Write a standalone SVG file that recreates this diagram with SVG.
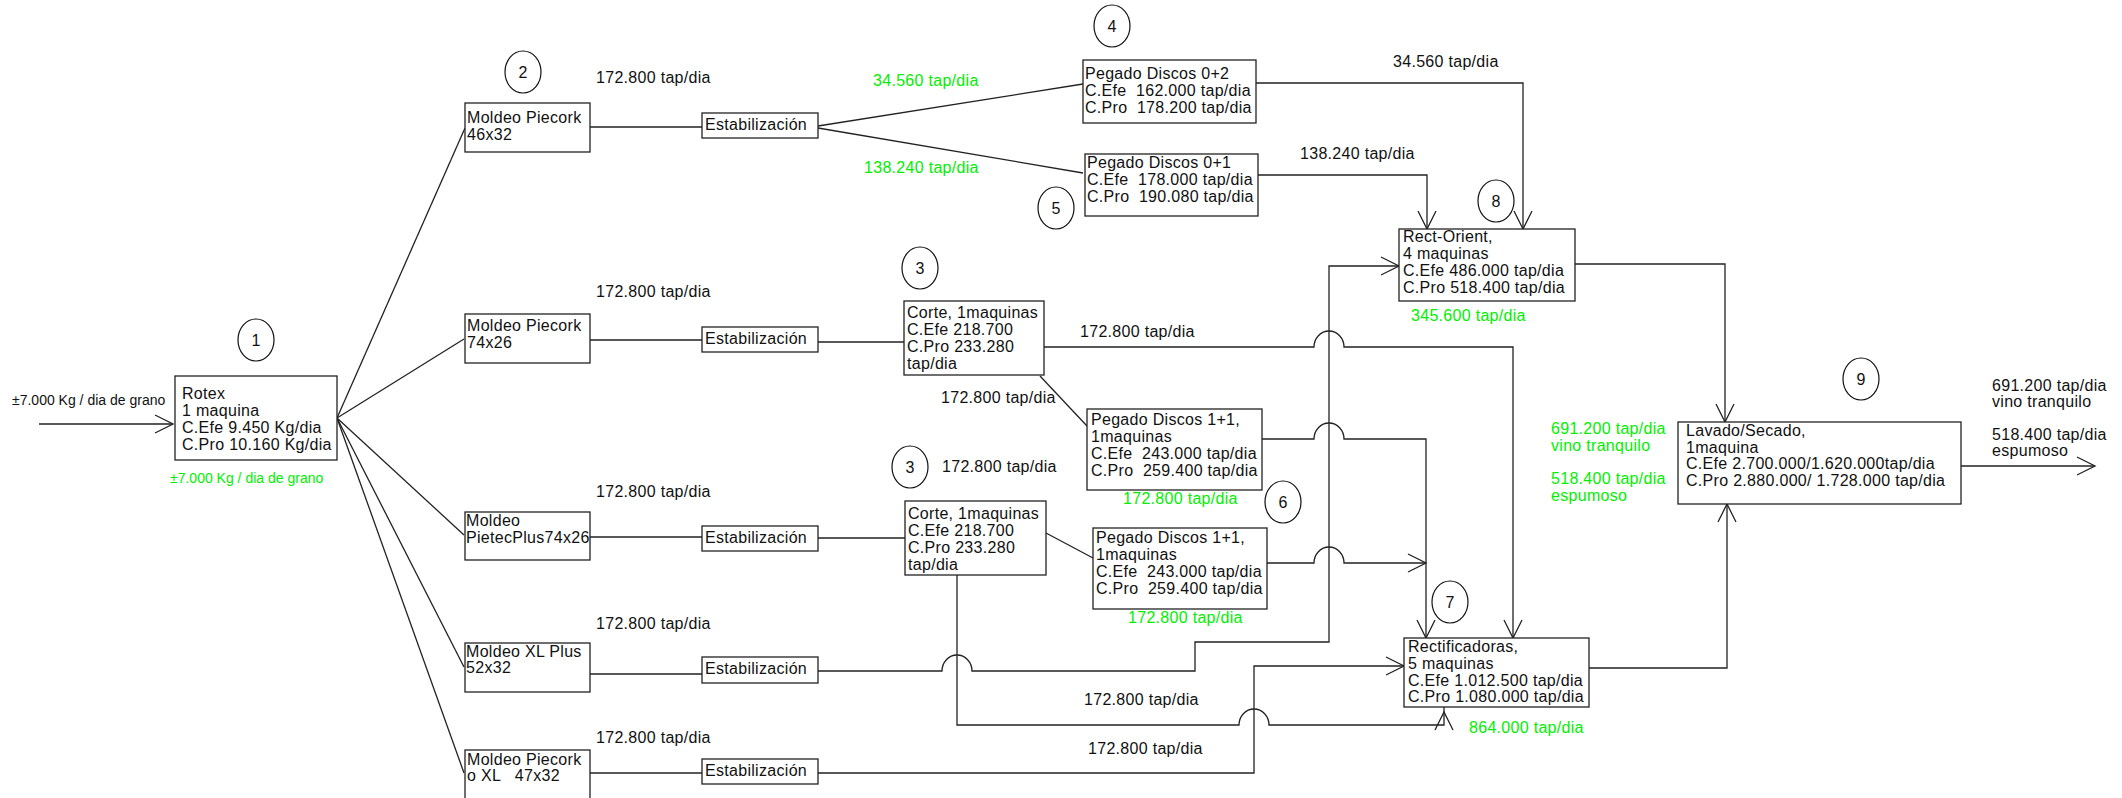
<svg xmlns="http://www.w3.org/2000/svg" width="2122" height="798" viewBox="0 0 2122 798">
<style>
.bg{fill:#fff}
.box{fill:#fff;stroke:#222;stroke-width:1.3}
.c{fill:#fff;stroke:#111;stroke-width:1.2}
.ln{fill:none;stroke:#222;stroke-width:1.3}
.t{font-family:"Liberation Sans",Arial,sans-serif;font-size:16px;letter-spacing:0.3px;fill:#111;white-space:pre}
.g{fill:#00f000}
.k{font-size:14px;letter-spacing:0}
.n{text-anchor:middle;letter-spacing:0}
</style>
<defs>
<marker id="arr" viewBox="-20 -10 22 20" refX="0" refY="0" markerWidth="22" markerHeight="20" markerUnits="userSpaceOnUse" orient="auto">
<path d="M-18,-9 L0,0 L-18,9" fill="none" stroke="#222" stroke-width="1.3"/>
</marker>
</defs>
<rect class="bg" x="0" y="0" width="2122" height="798"/>

<g id="connectors">
<path class="ln" d="M39,424 L173,424" marker-end="url(#arr)"/>
<path class="ln" d="M337,418 L465,128"/>
<path class="ln" d="M337,418 L464,339"/>
<path class="ln" d="M337,418 L464,535"/>
<path class="ln" d="M337,418 L464,667"/>
<path class="ln" d="M337,418 L464,773"/>
<path class="ln" d="M590,127 L702,127"/>
<path class="ln" d="M590,340 L702,340"/>
<path class="ln" d="M590,537 L702,537"/>
<path class="ln" d="M590,674 L702,674"/>
<path class="ln" d="M590,773 L702,773"/>
<path class="ln" d="M818,126 L1083,84"/>
<path class="ln" d="M818,128 L1083,173"/>
<path class="ln" d="M818,342 L904,342"/>
<path class="ln" d="M818,538 L905,538"/>
<path class="ln" d="M818,671 L942,671 A15,16 0 0 1 972,671 L1195,671 L1195,642 L1329,642 L1329,266 L1399,266" marker-end="url(#arr)"/>
<path class="ln" d="M818,773 L1254,773 L1254,666 L1404,666" marker-end="url(#arr)"/>
<path class="ln" d="M1044,347 L1314,347 A15,16 0 0 1 1344,347 L1513,347 L1513,638" marker-end="url(#arr)"/>
<path class="ln" d="M1040,376 L1087,426"/>
<path class="ln" d="M1046,533 L1093,558"/>
<path class="ln" d="M957,575 L957,725 L1239,725 A15,16 0 0 1 1269,725 L1444,725 L1444,712" marker-end="url(#arr)"/>
<path class="ln" d="M1444,712 L1444,700"/>
<path class="ln" d="M1262,439 L1314,439 A15,16 0 0 1 1344,439 L1426,439 L1426,638" marker-end="url(#arr)"/>
<path class="ln" d="M1267,563 L1314,563 A15,16 0 0 1 1344,563 L1426,563" marker-end="url(#arr)"/>
<path class="ln" d="M1256,83 L1523,83 L1523,229" marker-end="url(#arr)"/>
<path class="ln" d="M1258,175 L1427,175 L1427,229" marker-end="url(#arr)"/>
<path class="ln" d="M1575,264 L1725,264 L1725,422" marker-end="url(#arr)"/>
<path class="ln" d="M1589,668 L1727,668 L1727,504" marker-end="url(#arr)"/>
<path class="ln" d="M1961,466 L2095,466" marker-end="url(#arr)"/>
</g>

<g id="n1-rotex">
<rect class="box" x="175" y="376" width="162" height="84"/>
<text class="t" x="182" y="399">Rotex</text>
<text class="t" x="182" y="416">1 maquina</text>
<text class="t" x="182" y="433">C.Efe 9.450 Kg/dia</text>
<text class="t" x="182" y="450">C.Pro 10.160 Kg/dia</text>
</g>
<g id="m1">
<rect class="box" x="465" y="103" width="125" height="49"/>
<text class="t" x="467" y="123">Moldeo Piecork</text>
<text class="t" x="467" y="140">46x32</text>
</g>
<g id="m2">
<rect class="box" x="465" y="314" width="125" height="49"/>
<text class="t" x="467" y="331">Moldeo Piecork</text>
<text class="t" x="467" y="348">74x26</text>
</g>
<g id="m3">
<rect class="box" x="465" y="512" width="125" height="48"/>
<text class="t" x="466" y="526">Moldeo</text>
<text class="t" x="466" y="543">PietecPlus74x26</text>
</g>
<g id="m4">
<rect class="box" x="465" y="643" width="125" height="49"/>
<text class="t" x="466" y="657">Moldeo XL Plus</text>
<text class="t" x="466" y="673">52x32</text>
</g>
<g id="m5">
<rect class="box" x="465" y="750" width="125" height="52"/>
<text class="t" x="467" y="765">Moldeo Piecork</text>
<text class="t" x="467" y="781">o XL   47x32</text>
</g>
<g id="e1"><rect class="box" x="702" y="113" width="116" height="25"/><text class="t" x="705" y="130">Estabilización</text></g>
<g id="e2"><rect class="box" x="702" y="327" width="116" height="25"/><text class="t" x="705" y="344">Estabilización</text></g>
<g id="e3"><rect class="box" x="702" y="526" width="116" height="25"/><text class="t" x="705" y="543">Estabilización</text></g>
<g id="e4"><rect class="box" x="702" y="657" width="116" height="26"/><text class="t" x="705" y="674">Estabilización</text></g>
<g id="e5"><rect class="box" x="702" y="759" width="116" height="25"/><text class="t" x="705" y="776">Estabilización</text></g>

<g id="corte1">
<rect class="box" x="904" y="301" width="140" height="74"/>
<text class="t" x="907" y="318">Corte, 1maquinas</text>
<text class="t" x="907" y="335">C.Efe 218.700</text>
<text class="t" x="907" y="352">C.Pro 233.280</text>
<text class="t" x="907" y="369">tap/dia</text>
</g>
<g id="corte2">
<rect class="box" x="905" y="501" width="141" height="74"/>
<text class="t" x="908" y="519">Corte, 1maquinas</text>
<text class="t" x="908" y="536">C.Efe 218.700</text>
<text class="t" x="908" y="553">C.Pro 233.280</text>
<text class="t" x="908" y="570">tap/dia</text>
</g>
<g id="p02">
<rect class="box" x="1083" y="60" width="173" height="63"/>
<text class="t" x="1085" y="79">Pegado Discos 0+2</text>
<text class="t" x="1085" y="96">C.Efe  162.000 tap/dia</text>
<text class="t" x="1085" y="113">C.Pro  178.200 tap/dia</text>
</g>
<g id="p01">
<rect class="box" x="1085" y="154" width="173" height="62"/>
<text class="t" x="1087" y="168">Pegado Discos 0+1</text>
<text class="t" x="1087" y="185">C.Efe  178.000 tap/dia</text>
<text class="t" x="1087" y="202">C.Pro  190.080 tap/dia</text>
</g>
<g id="p11a">
<rect class="box" x="1087" y="409" width="175" height="81"/>
<text class="t" x="1091" y="425">Pegado Discos 1+1,</text>
<text class="t" x="1091" y="442">1maquinas</text>
<text class="t" x="1091" y="459">C.Efe  243.000 tap/dia</text>
<text class="t" x="1091" y="476">C.Pro  259.400 tap/dia</text>
</g>
<g id="p11b">
<rect class="box" x="1093" y="528" width="174" height="81"/>
<text class="t" x="1096" y="543">Pegado Discos 1+1,</text>
<text class="t" x="1096" y="560">1maquinas</text>
<text class="t" x="1096" y="577">C.Efe  243.000 tap/dia</text>
<text class="t" x="1096" y="594">C.Pro  259.400 tap/dia</text>
</g>
<g id="rect-orient">
<rect class="box" x="1399" y="229" width="176" height="72"/>
<text class="t" x="1403" y="242">Rect-Orient,</text>
<text class="t" x="1403" y="259">4 maquinas</text>
<text class="t" x="1403" y="276">C.Efe 486.000 tap/dia</text>
<text class="t" x="1403" y="293">C.Pro 518.400 tap/dia</text>
</g>
<g id="rectificadoras">
<rect class="box" x="1404" y="638" width="185" height="69"/>
<text class="t" x="1408" y="652">Rectificadoras,</text>
<text class="t" x="1408" y="669">5 maquinas</text>
<text class="t" x="1408" y="686">C.Efe 1.012.500 tap/dia</text>
<text class="t" x="1408" y="702">C.Pro 1.080.000 tap/dia</text>
</g>
<g id="lavado">
<rect class="box" x="1678" y="422" width="283" height="82"/>
<text class="t" x="1686" y="436">Lavado/Secado,</text>
<text class="t" x="1686" y="453">1maquina</text>
<text class="t" x="1686" y="469">C.Efe 2.700.000/1.620.000tap/dia</text>
<text class="t" x="1686" y="486">C.Pro 2.880.000/ 1.728.000 tap/dia</text>
</g>

<g id="step-numbers">
<ellipse class="c" cx="256" cy="340" rx="18" ry="21"/><text class="t n" x="256" y="346">1</text>
<ellipse class="c" cx="523" cy="72" rx="18" ry="21"/><text class="t n" x="523" y="78">2</text>
<ellipse class="c" cx="920" cy="268" rx="18" ry="21"/><text class="t n" x="920" y="274">3</text>
<ellipse class="c" cx="910" cy="467" rx="18" ry="21"/><text class="t n" x="910" y="473">3</text>
<ellipse class="c" cx="1112" cy="26" rx="18" ry="21"/><text class="t n" x="1112" y="32">4</text>
<ellipse class="c" cx="1056" cy="208" rx="18" ry="21"/><text class="t n" x="1056" y="214">5</text>
<ellipse class="c" cx="1283" cy="502" rx="18" ry="21"/><text class="t n" x="1283" y="508">6</text>
<ellipse class="c" cx="1450" cy="602" rx="18" ry="21"/><text class="t n" x="1450" y="608">7</text>
<ellipse class="c" cx="1496" cy="201" rx="18" ry="21"/><text class="t n" x="1496" y="207">8</text>
<ellipse class="c" cx="1861" cy="379" rx="18" ry="21"/><text class="t n" x="1861" y="385">9</text>
</g>

<g id="labels">
<text class="t k" x="12" y="405">±7.000 Kg / dia de grano</text>
<text class="t k g" x="170" y="483">±7.000 Kg / dia de grano</text>
<text class="t" x="596" y="83">172.800 tap/dia</text>
<text class="t" x="596" y="297">172.800 tap/dia</text>
<text class="t" x="596" y="497">172.800 tap/dia</text>
<text class="t" x="596" y="629">172.800 tap/dia</text>
<text class="t" x="596" y="743">172.800 tap/dia</text>
<text class="t g" x="873" y="86">34.560 tap/dia</text>
<text class="t g" x="864" y="173">138.240 tap/dia</text>
<text class="t" x="1393" y="67">34.560 tap/dia</text>
<text class="t" x="1300" y="159">138.240 tap/dia</text>
<text class="t" x="1080" y="337">172.800 tap/dia</text>
<text class="t" x="941" y="403">172.800 tap/dia</text>
<text class="t" x="942" y="472">172.800 tap/dia</text>
<text class="t g" x="1411" y="321">345.600 tap/dia</text>
<text class="t g" x="1123" y="504">172.800 tap/dia</text>
<text class="t g" x="1128" y="623">172.800 tap/dia</text>
<text class="t" x="1084" y="705">172.800 tap/dia</text>
<text class="t" x="1088" y="754">172.800 tap/dia</text>
<text class="t g" x="1469" y="733">864.000 tap/dia</text>
<text class="t g" x="1551" y="434">691.200 tap/dia</text>
<text class="t g" x="1551" y="451">vino tranquilo</text>
<text class="t g" x="1551" y="484">518.400 tap/dia</text>
<text class="t g" x="1551" y="501">espumoso</text>
<text class="t" x="1992" y="391">691.200 tap/dia</text>
<text class="t" x="1992" y="407">vino tranquilo</text>
<text class="t" x="1992" y="440">518.400 tap/dia</text>
<text class="t" x="1992" y="456">espumoso</text>
</g>
</svg>
